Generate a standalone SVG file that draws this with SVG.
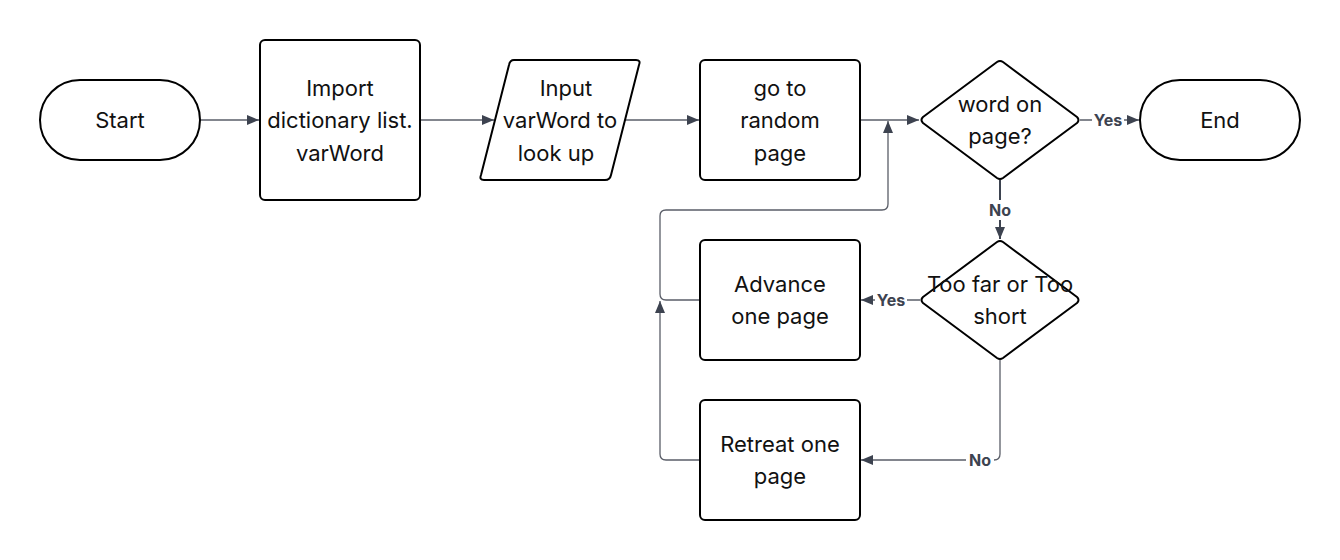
<svg xmlns="http://www.w3.org/2000/svg" width="1340" height="560" viewBox="0 0 1340 560">
<style>
.s{fill:#fff;stroke:#000;stroke-width:2;stroke-linejoin:round}
.t{font-family:Inter,"Liberation Sans",sans-serif;font-size:22px;fill:#111;text-anchor:middle}
.c{fill:none;stroke:#5a5e68;stroke-width:1.3}
.l{font-family:Inter,"Liberation Sans",sans-serif;font-size:16px;font-weight:bold;fill:#3d4350;text-anchor:middle}
.lb{fill:#fff}
</style>
<defs>
<marker id="a" viewBox="0 0 12 10" refX="12" refY="5" markerWidth="12" markerHeight="10" markerUnits="userSpaceOnUse" orient="auto">
<path d="M0,0 L12,5 L0,10 z" fill="#3d4350"/>
</marker>
</defs>
<rect width="1340" height="560" fill="#fff"/>
<g id="connectors">
<path class="c" d="M200,120 H259" marker-end="url(#a)"/>
<path class="c" d="M420,120 H494" marker-end="url(#a)"/>
<path class="c" d="M625,120 H699" marker-end="url(#a)"/>
<path class="c" d="M860,120 H919" marker-end="url(#a)"/>
<path class="c" d="M1080,120 H1139" marker-end="url(#a)"/>
<path class="c" d="M1000,180 V239" marker-end="url(#a)" style="stroke-width:2;stroke:#3d4350"/>
<path class="c" d="M920,300 H861" marker-end="url(#a)"/>
<path class="c" d="M1000,360 V454 Q1000,460 994,460 H861" marker-end="url(#a)"/>
<path class="c" d="M700,300 H666 Q660,300 660,294 V216 Q660,210 666,210 H882 Q888,210 888,204 V121" marker-end="url(#a)"/>
<path class="c" d="M700,460 H666 Q660,460 660,454 V301" marker-end="url(#a)"/>
<rect class="lb" x="1092" y="110" width="32" height="20"/>
<text class="l" x="1108" y="126">Yes</text>
<rect class="lb" x="986" y="200" width="28" height="20"/>
<text class="l" x="1000" y="216">No</text>
<rect class="lb" x="875" y="290" width="32" height="20"/>
<text class="l" x="891" y="306">Yes</text>
<rect class="lb" x="966" y="450" width="28" height="20"/>
<text class="l" x="980" y="466">No</text>
</g>
<g id="start">
<rect class="s" x="40" y="80" width="160" height="80" rx="40"/>
<text class="t" x="120" y="128">Start</text>
</g>
<g id="import">
<rect class="s" x="260" y="40" width="160" height="160" rx="5"/>
<text class="t" x="340" y="96">Import</text>
<text class="t" x="340" y="128">dictionary list.</text>
<text class="t" x="340" y="161">varWord</text>
</g>
<g id="input">
<path class="s" d="M514,60 H636 Q641,60 639,65 L611,175 Q610,180 605,180 H484 Q479,180 481,175 L509,65 Q510,60 514,60 z"/>
<text class="t" x="566" y="96">Input</text>
<text class="t" x="560" y="128">varWord to</text>
<text class="t" x="556" y="161">look up</text>
</g>
<g id="goto">
<rect class="s" x="700" y="60" width="160" height="120" rx="5"/>
<text class="t" x="780" y="96">go to</text>
<text class="t" x="780" y="128">random</text>
<text class="t" x="780" y="161">page</text>
</g>
<g id="wordonpage">
<path class="s" d="M997,62 Q1000,60 1003,62 L1077,117 Q1080,120 1077,123 L1003,178 Q1000,180 997,178 L923,123 Q920,120 923,117 z"/>
<text class="t" x="1000" y="112">word on</text>
<text class="t" x="1000" y="144">page?</text>
</g>
<g id="end">
<rect class="s" x="1140" y="80" width="160" height="80" rx="40"/>
<text class="t" x="1220" y="128">End</text>
</g>
<g id="toofar">
<path class="s" d="M997,242 Q1000,240 1003,242 L1077,297 Q1080,300 1077,303 L1003,358 Q1000,360 997,358 L923,303 Q920,300 923,297 z"/>
<text class="t" x="1000" y="292">Too far or Too</text>
<text class="t" x="1000" y="324">short</text>
</g>
<g id="advance">
<rect class="s" x="700" y="240" width="160" height="120" rx="5"/>
<text class="t" x="780" y="292">Advance</text>
<text class="t" x="780" y="324">one page</text>
</g>
<g id="retreat">
<rect class="s" x="700" y="400" width="160" height="120" rx="5"/>
<text class="t" x="780" y="452">Retreat one</text>
<text class="t" x="780" y="484">page</text>
</g>
</svg>
